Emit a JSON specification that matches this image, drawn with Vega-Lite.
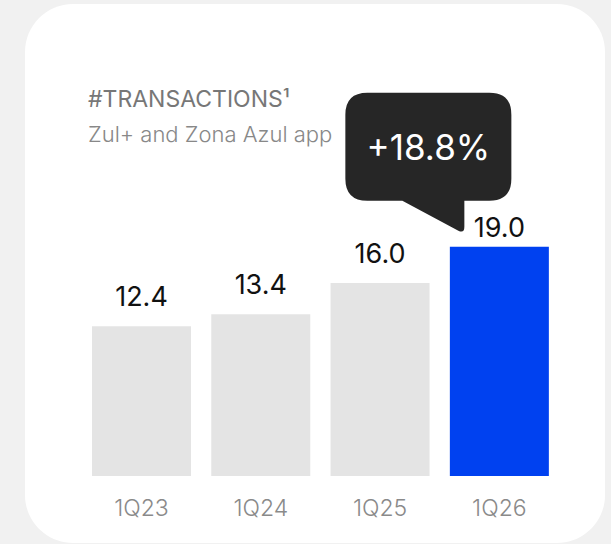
{
  "$schema": "https://vega.github.io/schema/vega-lite/v6.json",
  "width": 580,
  "height": 539,
  "autosize": {"type": "none"},
  "padding": {"left": 25, "top": 4, "right": 6, "bottom": 1},
  "background": "#f1f1f1",
  "view": {"fill": "#ffffff", "stroke": null, "cornerRadius": 48},
  "title": {
    "text": "#TRANSACTIONS¹",
    "subtitle": "Zul+ and Zona Azul app",
    "anchor": "start",
    "frame": "group",
    "orient": "top",
    "offset": 0,
    "dx": 63,
    "dy": 142,
    "font": "Inter",
    "fontSize": 23,
    "fontWeight": 400,
    "color": "#777777",
    "subtitleFont": "Inter",
    "subtitleFontSize": 22,
    "subtitleFontWeight": 300,
    "subtitleColor": "#888888",
    "subtitlePadding": 13
  },
  "data": {
    "values": [
      {"quarter": "1Q23", "value": 12.4},
      {"quarter": "1Q24", "value": 13.4},
      {"quarter": "1Q25", "value": 16.0},
      {"quarter": "1Q26", "value": 19.0, "yoy": "+18.8%"}
    ]
  },
  "encoding": {
    "x": {
      "field": "quarter",
      "type": "nominal",
      "sort": null,
      "scale": {"paddingInner": 0.17, "paddingOuter": 0.516, "align": 0.544},
      "axis": {
        "title": null,
        "domain": false,
        "ticks": false,
        "tickSize": 0,
        "grid": false,
        "labelAngle": 0,
        "labelPadding": 21,
        "labelFont": "Inter",
        "labelFontSize": 23,
        "labelFontWeight": 300,
        "labelColor": "#8a8a8a",
        "offset": -67
      }
    },
    "y": {
      "field": "value",
      "type": "quantitative",
      "scale": {"domain": [-5.551, 39.105], "nice": false, "zero": false},
      "axis": null
    }
  },
  "layer": [
    {
      "mark": {"type": "bar"},
      "encoding": {
        "color": {
          "condition": {"test": "datum.quarter === '1Q26'", "value": "#0041f0"},
          "value": "#e4e4e4"
        }
      }
    },
    {
      "transform": [{"filter": "datum.quarter !== '1Q26'"}],
      "mark": {"type": "text", "dy": -20, "baseline": "alphabetic", "align": "center", "font": "Inter", "fontSize": 27, "color": "#111111"},
      "encoding": {"text": {"field": "value", "type": "quantitative", "format": ".1f"}}
    },
    {
      "transform": [{"filter": "datum.quarter === '1Q26'"}],
      "mark": {"type": "text", "dy": -10, "baseline": "alphabetic", "align": "center", "font": "Inter", "fontSize": 27, "color": "#111111"},
      "encoding": {"text": {"field": "value", "type": "quantitative", "format": ".1f"}}
    },
    {
      "transform": [{"filter": "isValid(datum.yoy)"}],
      "mark": {
        "type": "point",
        "shape": "M -132 -154 L -10 -154 Q 12 -154 12 -132 L 12 -68 Q 12 -46 -10 -46 L -35 -46 L -35 -20 Q -35 -13 -41 -16 L -97 -46 L -132 -46 Q -154 -46 -154 -68 L -154 -132 Q -154 -154 -132 -154 Z",
        "size": 4,
        "filled": true,
        "color": "#262626",
        "opacity": 1,
        "strokeWidth": 0
      }
    },
    {
      "transform": [{"filter": "isValid(datum.yoy)"}],
      "mark": {"type": "text", "dx": -71, "dy": -87, "baseline": "alphabetic", "align": "center", "font": "Inter", "fontSize": 35, "color": "#ffffff"},
      "encoding": {"text": {"field": "yoy", "type": "nominal"}}
    }
  ]
}
